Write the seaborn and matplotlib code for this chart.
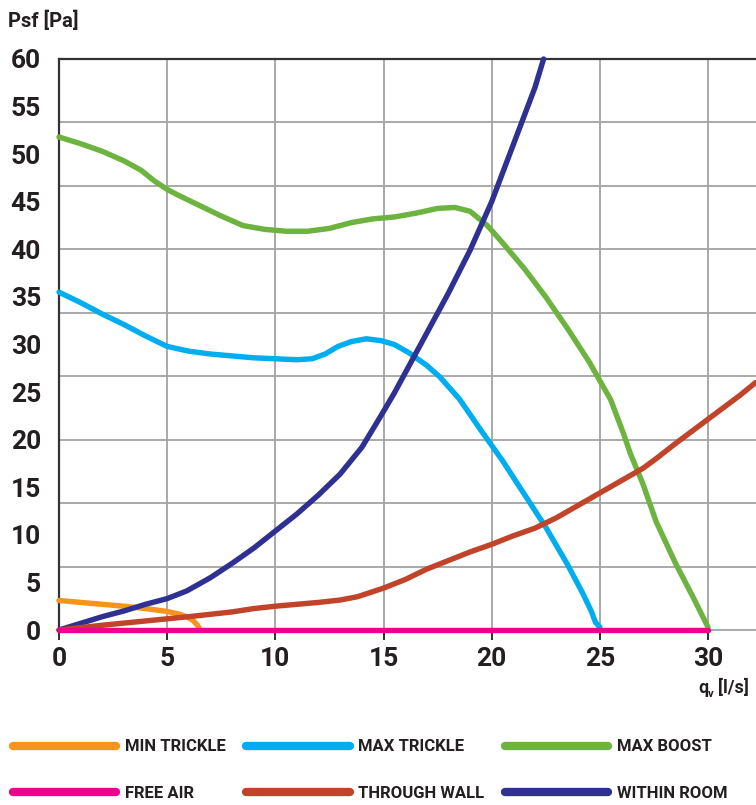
import numpy as np
import matplotlib
matplotlib.use("Agg")
import matplotlib.pyplot as plt
from matplotlib.ticker import MultipleLocator
import seaborn as sns

# fan curves: airflow qv [l/s] vs pressure Psf [Pa]
min_trickle_q = [0, 1, 2, 3, 4, 5, 5.5, 5.9, 6.2, 6.4, 6.5]
min_trickle_p = [3.1, 2.9, 2.7, 2.5, 2.25, 1.95, 1.7, 1.4, 1.0, 0.5, 0.1]

max_trickle_q = [0, 1, 2, 3, 4, 5, 6, 7, 8, 9, 10, 11, 11.7, 12.3, 12.9, 13.5,
                 14.2, 14.9, 15.5, 16.2, 17, 17.6, 18.5, 19.5, 20.5, 21.5, 22.5,
                 23.5, 24.2, 24.6, 24.8, 25]
max_trickle_p = [35.5, 34.4, 33.2, 32.1, 30.9, 29.8, 29.3, 29.0, 28.8, 28.6, 28.5,
                 28.4, 28.5, 29.0, 29.8, 30.3, 30.6, 30.4, 30.0, 29.1, 27.8, 26.6,
                 24.3, 21.0, 17.8, 14.3, 10.8, 6.9, 3.9, 2.0, 0.8, 0.3]

max_boost_q = [0, 1, 2, 3, 3.8, 4.4, 5.0, 5.5, 6.5, 7.5, 8.5, 9.5, 10.5, 11.5,
               12.5, 13.5, 14.5, 15.5, 16.5, 17.5, 18.3, 19.0, 19.8, 20.5, 21.5,
               22.5, 23.5, 24.5, 25.5, 26.1, 26.4, 27.0, 27.6, 28.5, 29.3, 30]
max_boost_p = [51.8, 51.1, 50.3, 49.3, 48.3, 47.2, 46.3, 45.7, 44.6, 43.5, 42.5,
               42.1, 41.9, 41.9, 42.2, 42.8, 43.2, 43.4, 43.8, 44.3, 44.4, 44.0,
               42.5, 40.7, 38.0, 35.0, 31.7, 28.2, 24.2, 20.6, 18.6, 15.3, 11.4,
               7.0, 3.5, 0.3]

free_air_q = [0, 10, 20, 30]
free_air_p = [0, 0, 0, 0]

through_wall_q = [0, 2, 4, 6, 8, 9, 10, 11, 12, 13, 13.8, 15, 16, 17, 18, 19, 20,
                  21, 22, 23, 24, 25, 26, 27, 27.6, 28.5, 29.5, 30.5, 31.5, 32.2]
through_wall_p = [0, 0.5, 0.95, 1.4, 1.9, 2.25, 2.5, 2.7, 2.9, 3.15, 3.5, 4.4,
                  5.3, 6.4, 7.3, 8.2, 9.0, 9.9, 10.7, 11.8, 13.1, 14.4, 15.7,
                  17.0, 18.0, 19.6, 21.3, 23.0, 24.7, 26.0]

within_room_q = [0, 1, 2, 3, 4, 5, 5.9, 7, 8, 9, 10, 11, 12, 13, 14, 14.8, 15.5,
                 16, 17, 18, 19, 20, 21, 22, 22.4]
within_room_p = [0, 0.7, 1.4, 2.0, 2.7, 3.3, 4.1, 5.5, 7.0, 8.6, 10.4, 12.2, 14.2,
                 16.4, 19.2, 22.2, 24.9, 27.0, 31.2, 35.4, 39.9, 45.0, 51.0, 57.0,
                 60.0]

series = [
    ("MIN TRICKLE", min_trickle_q, min_trickle_p, "#F7941D"),
    ("MAX TRICKLE", max_trickle_q, max_trickle_p, "#00AEEF"),
    ("MAX BOOST", max_boost_q, max_boost_p, "#6DB33F"),
    ("WITHIN ROOM", within_room_q, within_room_p, "#2E3192"),
    ("THROUGH WALL", through_wall_q, through_wall_p, "#C1442A"),
    ("FREE AIR", free_air_q, free_air_p, "#EC008C"),
]
legend_order = ["MIN TRICKLE", "FREE AIR", "MAX TRICKLE", "THROUGH WALL",
                "MAX BOOST", "WITHIN ROOM"]

sns.set_style("white")
plt.rcParams["font.family"] = ["Roboto", "DejaVu Sans"]
txt = "#231F20"
grid_c = "#A3A3A3"

W, H = 756, 805
fig = plt.figure(figsize=(W / 100, H / 100), dpi=100)
ax = fig.add_axes([59 / W, 1 - 630 / H, 1 - 59 / W, (630 - 59) / H])

xmax = (W - 59) / ((708 - 59) / 30)
ax.set_xlim(0, xmax)
ax.set_ylim(0, 60)

# grid: vertical every 5 l/s, horizontal splits the 0-60 range into nine bands
for xv in range(5, 31, 5):
    ax.axvline(xv, color=grid_c, lw=1.3, zorder=1)
for k in range(1, 9):
    ax.axhline(60 * k / 9, color=grid_c, lw=1.3, zorder=1)

handles = {}
for i, (name, q, p, col) in enumerate(series):
    sns.lineplot(x=q, y=p, ax=ax, color=col, lw=3.9, label=name,
                 solid_capstyle="round", solid_joinstyle="round",
                 zorder=3 + i, clip_on=False)
    handles[name] = ax.get_lines()[-1]
ax.get_legend().remove()

ax.spines["right"].set_visible(False)
ax.spines["top"].set_color("#333333")
ax.spines["top"].set_linewidth(1.6)
ax.spines["left"].set_color("#333333")
ax.spines["left"].set_linewidth(1.6)
ax.spines["bottom"].set_color(grid_c)
ax.spines["bottom"].set_linewidth(1.3)

ax.yaxis.set_major_locator(MultipleLocator(5))
ax.yaxis.set_minor_locator(MultipleLocator(1))
ax.set_xticks(range(0, 31, 5))
ax.tick_params(axis="y", which="major", direction="out", length=10, width=1.5,
               color=txt, pad=3, labelsize=19, labelcolor=txt)
ax.tick_params(axis="y", which="minor", direction="out", length=5, width=1.1,
               color=txt)
ax.tick_params(axis="x", which="major", direction="out", length=7, width=1.3,
               color=txt, pad=5, labelsize=19, labelcolor=txt, bottom=True)
for lab in ax.get_xticklabels() + ax.get_yticklabels():
    lab.set_fontweight("bold")

fig.text(8 / W, 1 - 27 / H, "Psf [Pa]", fontsize=14.5, fontweight="bold",
         color=txt, va="baseline", ha="left")
fig.text(698 / W, 1 - 693 / H, "q", fontsize=13, fontweight="bold",
         color=txt, va="baseline", ha="left")
fig.text(708 / W, 1 - 697 / H, "v", fontsize=8, fontweight="bold",
         color=txt, va="baseline", ha="left")
fig.text(718 / W, 1 - 693 / H, "[l/s]", fontsize=13, fontweight="bold",
         color=txt, va="baseline", ha="left")

leg = fig.legend([handles[n] for n in legend_order], legend_order, ncol=3,
                 loc="lower left", bbox_to_anchor=(13 / W, 4 / H),
                 frameon=False, borderpad=0, borderaxespad=0,
                 handlelength=6.2, handletextpad=0.5, columnspacing=1.25,
                 labelspacing=1.9, prop={"weight": "bold", "size": 12})
for t in leg.get_texts():
    t.set_color(txt)
for ln in leg.get_lines():
    ln.set_linewidth(6)
    ln.set_solid_capstyle("round")

fig.savefig("out.png", dpi=100)
